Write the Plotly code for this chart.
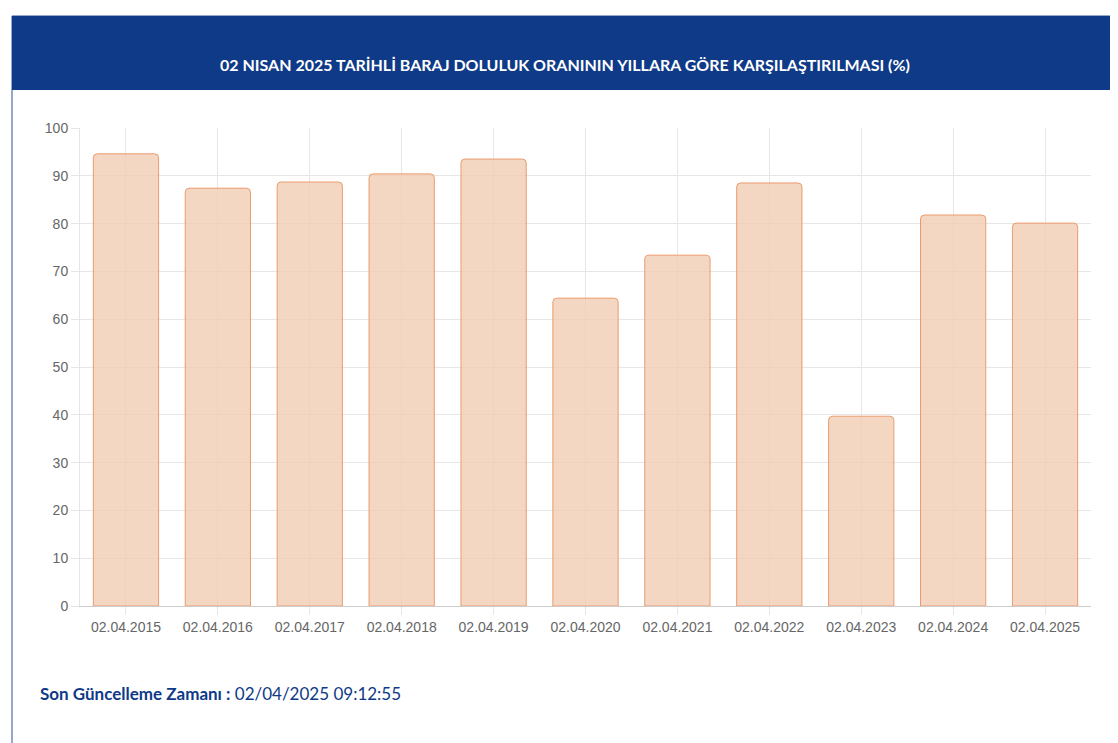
import plotly.graph_objects as go

dates = ["02.04.2015","02.04.2016","02.04.2017","02.04.2018","02.04.2019","02.04.2020",
         "02.04.2021","02.04.2022","02.04.2023","02.04.2024","02.04.2025"]
values = [94.6, 87.4, 88.7, 90.4, 93.5, 64.4, 73.4, 88.5, 39.7, 81.8, 80.1]
y_ticks = list(range(0, 101, 10))

title = "02 NISAN 2025 TARİHLİ BARAJ DOLULUK ORANININ YILLARA GÖRE KARŞILAŞTIRILMASI (%)"

fig = go.Figure(go.Bar(
    x=dates, y=values,
    marker=dict(color="rgba(240,205,180,0.8)", line=dict(color="#ec9a6c", width=1), cornerradius=4),
    hoverinfo="x+y",
))

W, H = 1118, 743
L, R, T, B = 72, 35, 120, 145
PW, PH = W - L - R, H - T - B
def px(x): return (x - L) / PW
def py(y): return (H - B - y) / PH

fig.update_layout(
    width=W, height=H,
    margin=dict(l=L, r=R, t=T, b=B, autoexpand=False),
    paper_bgcolor="white", plot_bgcolor="rgba(0,0,0,0)",
    bargap=0.29, showlegend=False,
    font=dict(family="Liberation Sans, Arial", color="#666"),
    xaxis=dict(showgrid=True, gridcolor="#e6e6e6", showline=True, linecolor="#cccccc",
               ticks="outside", ticklen=8, tickcolor="#e6e6e6", tickfont=dict(size=14, color="#666"),
               fixedrange=True, automargin=False),
    yaxis=dict(range=[0, 100], tickvals=y_ticks, gridcolor="#e6e6e6", zeroline=False,
               showline=True, linecolor="#e6e6e6", ticks="outside", ticklen=8, tickcolor="#e6e6e6",
               tickfont=dict(size=14, color="#666"), fixedrange=True, automargin=False),
    shapes=[
        dict(type="rect", xref="paper", yref="paper", x0=px(4), x1=px(1110), y0=py(740), y1=py(8),
             line=dict(color="#2a4f9a", width=1), fillcolor="rgba(0,0,0,0)", layer="below"),
        dict(type="rect", xref="paper", yref="paper", x0=px(4), x1=px(1110), y0=py(82), y1=py(8),
             line=dict(width=0), fillcolor="#0e3a87", layer="below"),
        dict(type="line", xref="paper", yref="paper", x0=px(0), x1=px(W), y0=py(742), y1=py(742),
             line=dict(color="#222", width=2)),
    ],
    annotations=[
        dict(text="<b>" + title + "</b>", xref="paper", yref="paper", x=px(557), y=py(45),
             showarrow=False, font=dict(family="Lato, sans-serif", size=16, color="white")),
        dict(text="<b>Son Güncelleme Zamanı :</b> 02/04/2025 09:12:55", xref="paper", yref="paper",
             x=px(30), y=py(698), xanchor="left", showarrow=False,
             font=dict(family="Lato, sans-serif", size=17, color="#0e3a87")),
    ],
)

fig.write_html("out.html")
